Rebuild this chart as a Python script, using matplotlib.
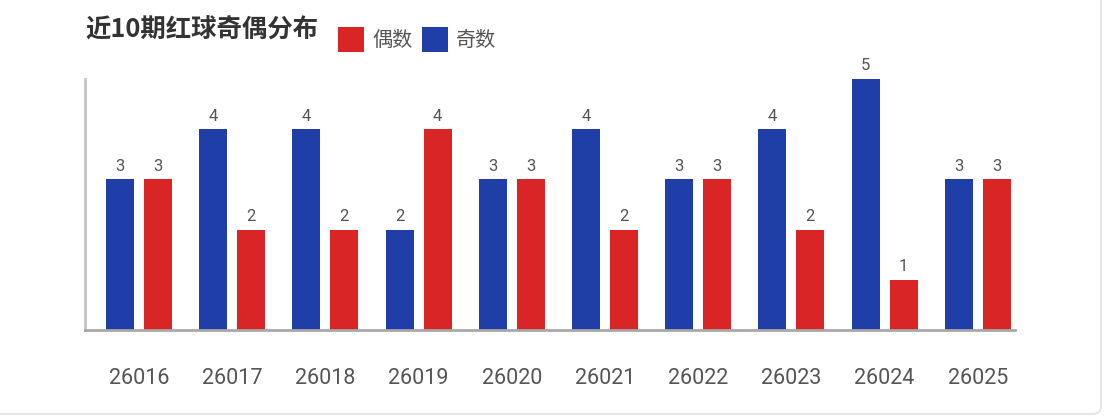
import numpy as np
import matplotlib.pyplot as plt
from matplotlib.patches import FancyBboxPatch, Rectangle
from matplotlib.transforms import IdentityTransform

plt.rcParams['font.family'] = ['Roboto', 'Noto Sans CJK SC', 'DejaVu Sans']

periods = ["26016", "26017", "26018", "26019", "26020",
           "26021", "26022", "26023", "26024", "26025"]
odd_counts = [3, 4, 4, 2, 3, 4, 3, 4, 5, 3]    # 奇数
even_counts = [3, 2, 2, 4, 3, 2, 3, 2, 1, 3]   # 偶数

blue = "#1f3ea8"
red = "#d92525"
W, H = 1104, 418

fig = plt.figure(figsize=(W / 100, H / 100), dpi=100)
fig.patch.set_facecolor("white")

# card outline
card = FancyBboxPatch((-20, 4), 1121, 440, boxstyle="round,pad=0,rounding_size=8",
                      transform=IdentityTransform(), facecolor="white",
                      edgecolor="#e6e6e6", linewidth=1.5, zorder=-5)
fig.patches.append(card)

ax = fig.add_axes([85 / W, (H - 330) / H, 930 / W, 251 / H])
ax.patch.set_alpha(0)
x = np.arange(len(periods))
bw = 0.30
off = 0.204
b1 = ax.bar(x - off, odd_counts, bw, color=blue)
b2 = ax.bar(x + off, even_counts, bw, color=red)
ax.bar_label(b1, padding=4, fontsize=12, color="#555555")
ax.bar_label(b2, padding=4, fontsize=12, color="#555555")

ax.set_xlim(-0.58, 9.40)
ax.set_ylim(0, 5)
ax.set_xticks(x)
ax.set_xticklabels(periods, fontsize=15.5, color="#555555")
ax.tick_params(axis="x", length=0, pad=27)
ax.set_yticks([])
for s in ["top", "right"]:
    ax.spines[s].set_visible(False)
ax.spines["left"].set_color("#c4c4c4")
ax.spines["left"].set_linewidth(2)
ax.spines["bottom"].set_color("#a8a8a8")
ax.spines["bottom"].set_linewidth(2)

fig.text(85 / W, 1 - 30 / H, "近10期红球奇偶分布", fontsize=18.3, fontweight="bold",
         color="#333333", va="center", ha="left",
         family=['Noto Sans CJK SC', 'DejaVu Sans'])

# legend
for x0, col, lab in [(338, red, "偶数"), (422, blue, "奇数")]:
    fig.patches.append(Rectangle((x0 / W, 1 - 52 / H), 26 / W, 25 / H,
                                 transform=fig.transFigure, facecolor=col,
                                 edgecolor="none"))
    fig.text((x0 + 34) / W, 1 - 40 / H, lab, fontsize=14.5, color="#555555",
             va="center", ha="left", family=['Noto Sans CJK SC', 'DejaVu Sans'])

fig.savefig("out.png", dpi=100)
